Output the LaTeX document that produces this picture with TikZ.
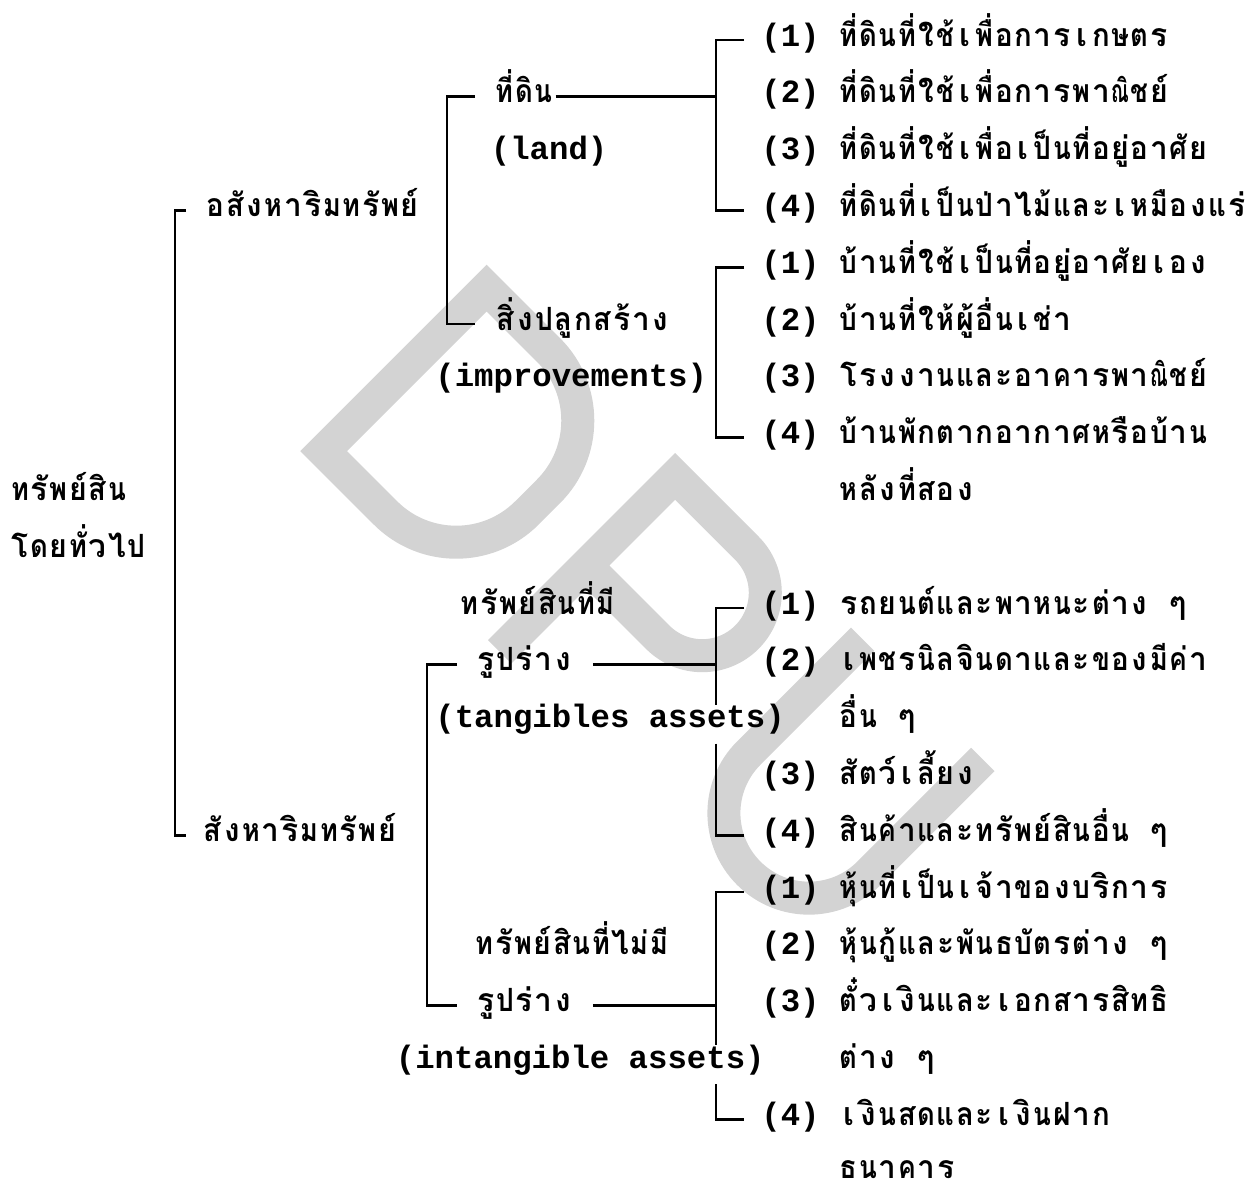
\documentclass[tikz,border=0pt]{standalone}
\usepackage{fontspec}
\newfontfamily\thaifont[Script=Thai]{Loma}
\newfontfamily\lmono{Liberation Mono}
\definecolor{wm}{RGB}{211,211,211}
\ExplSyntaxOn
\tl_new:N \l__tyw_cur_tl
\box_new:N \l__tyw_box
\dim_new:N \l__tyw_cell_dim
\dim_set:Nn \l__tyw_cell_dim { 9.7pt }
\cs_new_protected:Npn \__tyw_flush:
  {
    \tl_if_empty:NF \l__tyw_cur_tl
      {
        \hbox_set:Nn \l__tyw_box { \tl_use:N \l__tyw_cur_tl }
        \dim_compare:nNnT { \box_wd:N \l__tyw_box } > { 8.9pt }
          {
            \box_scale:Nnn \l__tyw_box
              { \fp_eval:n { 8.9 / \dim_to_fp:n { \box_wd:N \l__tyw_box } } } { 1 }
          }
        \hbox_to_wd:nn { \l__tyw_cell_dim } { \hfil \box_use:N \l__tyw_box \hfil }
      }
    \tl_clear:N \l__tyw_cur_tl
  }
\cs_new_protected:Npn \__tyw_add:N #1
  {
    \bool_if:nTF
      {
        \int_compare_p:nNn { `#1 } = { 3633 }
        || ( \int_compare_p:nNn { `#1 } > { 3635 } && \int_compare_p:nNn { `#1 } < { 3643 } )
        || ( \int_compare_p:nNn { `#1 } > { 3654 } && \int_compare_p:nNn { `#1 } < { 3663 } )
      }
      { \tl_put_right:Nn \l__tyw_cur_tl {#1} }
      { \__tyw_flush: \tl_put_right:Nn \l__tyw_cur_tl {#1} }
  }
\NewDocumentCommand \tm { m }
  {
    \mode_leave_vertical:
    \tl_clear:N \l__tyw_cur_tl
    \tl_map_function:nN {#1} \__tyw_add:N
    \__tyw_flush:
  }
\ExplSyntaxOff
\tikzset{
  ln/.style={line width=1.4pt},
  th/.style={anchor=base west, inner sep=0pt, font=\thaifont\bfseries\fontsize{16}{19}\selectfont},
  en/.style={anchor=base west, inner sep=0pt, font=\lmono\bfseries\fontsize{16.17}{19}\selectfont},
  wmk/.style={draw=wm, line width=16.5pt, line join=miter}
}
\begin{document}
\begin{tikzpicture}[x=0.5pt,y=-0.5pt]
\useasboundingbox (0,0) rectangle (1250,1190);
\fill[white] (0,0) rectangle (1250,1190);
% watermark DPU
\begin{scope}[x={(0.353553pt,-0.353553pt)}, y={(0.353553pt,0.353553pt)}]
  \draw[wmk] (547.8,-90.1) -- (547.8,140.4) -- (635.3,140.4) arc[start angle=90,end angle=0,radius=100] -- (735.3,9.9) arc[start angle=0,end angle=-90,radius=100] -- cycle;
  \draw[wmk] (814.2,-107.5) -- (814.2,140.5) -- (915.7,140.5) arc[start angle=90,end angle=-90,radius=63] -- (814.2,14.5);
  \draw[wmk] (1062,158) -- (1062,-3) arc[start angle=180,end angle=360,radius=85] -- (1232,158);
\end{scope}
% left column
\node[th] (root1) at (10,500.4) {\tm{ทรัพย์สิน}};
\node[th] (root2) at (10,557.2) {\tm{โดยทั่วไป}};
\node[th] (A) at (205.5,216.4) {\tm{อสังหาริมทรัพย์}};
\node[th] (S) at (202.5,841.2) {\tm{สังหาริมทรัพย์}};
% second level
\node[th] (land) at (494.5,102.8) {\tm{ที่ดิน}};
\node[en] (landen) at (490.5,159.6) {(land)};
\node[th] (imp) at (495.5,330) {\tm{สิ่งปลูกสร้าง}};
\node[en] (impen) at (435,386.8) {(improvements)};
\node[th] (tga) at (459.5,614) {\tm{ทรัพย์สินที่มี}};
\node[th] (rupa) at (475.5,670.8) {\tm{รูปร่าง}};
\node[en] (tg) at (435,727.6) {(tangibles assets)};
\node[th] (itga) at (474.5,954.8) {\tm{ทรัพย์สินที่ไม่มี}};
\node[th] (rupb) at (475.5,1011.6) {\tm{รูปร่าง}};
\node[en] (itg) at (395.5,1068.4) {(intangible assets)};
% numbers
\node[en] (n0) at (761,46) {(1)};
\node[en] (n1) at (761,102.8) {(2)};
\node[en] (n2) at (761,159.6) {(3)};
\node[en] (n3) at (761,216.4) {(4)};
\node[en] (n4) at (761,273.2) {(1)};
\node[en] (n5) at (761,330) {(2)};
\node[en] (n6) at (761,386.8) {(3)};
\node[en] (n7) at (761,443.6) {(4)};
\node[en] (n10) at (761,614) {(1)};
\node[en] (n11) at (761,670.8) {(2)};
\node[en] (n13) at (761,784.4) {(3)};
\node[en] (n14) at (761,841.2) {(4)};
\node[en] (n15) at (761,898) {(1)};
\node[en] (n16) at (761,954.8) {(2)};
\node[en] (n17) at (761,1011.6) {(3)};
\node[en] (n19) at (761,1125.2) {(4)};
% items
\node[th] (i0) at (838.6,46) {\tm{ที่ดินที่ใช้เพื่อการเกษตร}};
\node[th] (i1) at (838.6,102.8) {\tm{ที่ดินที่ใช้เพื่อการพาณิชย์}};
\node[th] (i2) at (838.6,159.6) {\tm{ที่ดินที่ใช้เพื่อเป็นที่อยู่อาศัย}};
\node[th] (i3) at (838.6,216.4) {\tm{ที่ดินที่เป็นป่าไม้และเหมืองแร่}};
\node[th] (i4) at (838.6,273.2) {\tm{บ้านที่ใช้เป็นที่อยู่อาศัยเอง}};
\node[th] (i5) at (838.6,330) {\tm{บ้านที่ให้ผู้อื่นเช่า}};
\node[th] (i6) at (838.6,386.8) {\tm{โรงงานและอาคารพาณิชย์}};
\node[th] (i7) at (838.6,443.6) {\tm{บ้านพักตากอากาศหรือบ้าน}};
\node[th] (i8) at (838.6,500.4) {\tm{หลังที่สอง}};
\node[th] (i10) at (838.6,614) {\tm{รถยนต์และพาหนะต่าง~ๆ}};
\node[th] (i11) at (838.6,670.8) {\tm{เพชรนิลจินดาและของมีค่า}};
\node[th] (i12) at (838.6,727.6) {\tm{อื่น~ๆ}};
\node[th] (i13) at (838.6,784.4) {\tm{สัตว์เลี้ยง}};
\node[th] (i14) at (838.6,841.2) {\tm{สินค้าและทรัพย์สินอื่น~ๆ}};
\node[th] (i15) at (838.6,898) {\tm{หุ้นที่เป็นเจ้าของบริการ}};
\node[th] (i16) at (838.6,954.8) {\tm{หุ้นกู้และพันธบัตรต่าง~ๆ}};
\node[th] (i17) at (838.6,1011.6) {\tm{ตั๋วเงินและเอกสารสิทธิ}};
\node[th] (i18) at (838.6,1068.4) {\tm{ต่าง~ๆ}};
\node[th] (i19) at (838.6,1125.2) {\tm{เงินสดและเงินฝาก}};
\node[th] (i20) at (838.6,1178) {\tm{ธนาคาร}};
% main bracket
\draw[ln] ([shift={(-19.5,-6)}]A.base west) -- ([shift={(-30.5,-6)}]A.base west) |- ([shift={(-16.5,-6)}]S.base west);
% upper second bracket
\draw[ln] ([shift={(-19.5,-6)}]land.base west) -- ([shift={(-47.5,-6)}]land.base west) |- ([shift={(-20.5,-6)}]imp.base west);
% lower second bracket
\draw[ln] ([shift={(-18.5,-6)}]rupa.base west) -- ([shift={(-48.5,-6)}]rupa.base west) |- ([shift={(-18.5,-6)}]rupb.base west);
% land items
\draw[ln] ([shift={(-17,-6)}]n0.base west) -- ([shift={(-45,-6)}]n0.base west) |- ([shift={(-17,-6)}]n3.base west);
\draw[ln] ([shift={(2,-6)}]land.base east) -- ([shift={(-45,-6)}]n1.base west);
% improvements items
\draw[ln] ([shift={(-17,-6)}]n4.base west) -- ([shift={(-45,-6)}]n4.base west) |- ([shift={(-17,-6)}]n7.base west);
% tangibles items
\coordinate (tsp) at ([shift={(-45,-6)}]n10.base west);
\coordinate (tgA) at ([shift={(0,-23)}]tg.base);
\coordinate (tgB) at ([shift={(0,16)}]tg.base);
\draw[ln] ([shift={(-17,-6)}]n10.base west) -- (tsp) -- (tsp |- tgA);
\draw[ln] (tsp |- tgB) |- ([shift={(-17,-6)}]n14.base west);
\coordinate (ra) at ([shift={(19.5,-6)}]rupa.base east);
\draw[ln] (ra) -- (tsp |- ra);
% intangibles items
\coordinate (isp) at ([shift={(-45,-6)}]n15.base west);
\coordinate (itA) at ([shift={(0,-23)}]itg.base);
\coordinate (itB) at ([shift={(0,16)}]itg.base);
\draw[ln] ([shift={(-17,-6)}]n15.base west) -- (isp) -- (isp |- itA);
\draw[ln] (isp |- itB) |- ([shift={(-17,-6)}]n19.base west);
\coordinate (rb) at ([shift={(19.5,-6)}]rupb.base east);
\draw[ln] (rb) -- (isp |- rb);
\end{tikzpicture}
\end{document}
